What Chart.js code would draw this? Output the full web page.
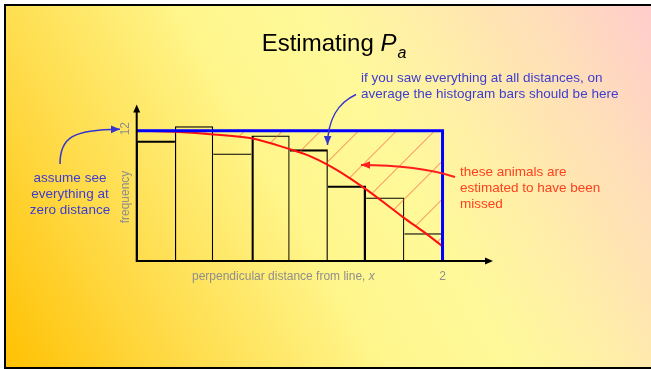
<!DOCTYPE html>
<html>
<head>
<meta charset="utf-8">
<title>Estimating Pa</title>
<script src="https://cdn.jsdelivr.net/npm/chart.js@4.4.0/dist/chart.umd.min.js"></script>
<style>
  html, body { margin: 0; padding: 0; background: #fff; }
  canvas { display: block; }
</style>
</head>
<body>
<canvas id="pa-chart" width="651" height="369"></canvas>
<script>
// histogram of perpendicular distances, 8 bins of width 0.25
var binEdges = [0, 0.25, 0.5, 0.75, 1, 1.25, 1.5, 1.75, 2];
var binCounts = [11.1, 12.4, 9.9, 11.55, 10.3, 6.95, 5.85, 2.55];

// fitted detection function, scaled to the first bin
var curveX = [0, 0.25, 0.5, 0.75, 1, 1.125, 1.25, 1.375, 1.5, 1.625, 1.75, 1.875, 2];
var curveY = [12, 11.9, 11.65, 11.3, 10.3, 9.7, 8.85, 7.8, 6.6, 5.3, 3.95, 2.7, 1.35];

// where the bars would sit if everything were seen
var fullX = [0, 2, 2];
var fullY = [12, 12, 0];

var xTicks = [2];
var yTicks = [12];

var FONT = '"Liberation Sans", Arial, sans-serif';
var BLUE_TEXT = '#3D3DD0';
var RED_TEXT = '#FF3F1F';
var AXIS_GREY = '#8E8E8E';

// which bar tops / bar edges are drawn heavier
var thickTops = [0, 4, 5];
var thickEdges = [3, 6];

var barPoints = binCounts.map(function(v, i) {
	return { x: (binEdges[i] + binEdges[i + 1]) / 2, y: v };
});
var curvePoints = curveX.map(function(x, i) { return { x: x, y: curveY[i] }; });
var fullPoints = fullX.map(function(x, i) { return { x: x, y: fullY[i] }; });

function hatchPattern() {
	var size = 38;
	var c = document.createElement('canvas');
	c.width = size;
	c.height = size;
	var g = c.getContext('2d');
	g.strokeStyle = 'rgba(250, 85, 55, 0.8)';
	g.lineWidth = 1;
	g.beginPath();
	g.moveTo(-2, size + 2); g.lineTo(size + 2, -2);
	g.moveTo(-2, 2); g.lineTo(2, -2);
	g.moveTo(size - 2, size + 2); g.lineTo(size + 2, size - 2);
	g.stroke();
	var p = g.createPattern(c, 'repeat');
	p.setTransform(new DOMMatrix([1, 0, 0, 1, -4.6, 0]));
	return p;
}

function curvedArrow(ctx, p, colour, width) {
	// p = [x0, y0, cx1, cy1, cx2, cy2, tipX, tipY]
	ctx.save();
	ctx.strokeStyle = colour;
	ctx.fillStyle = colour;
	ctx.lineWidth = width;
	ctx.beginPath();
	ctx.moveTo(p[0], p[1]);
	ctx.bezierCurveTo(p[2], p[3], p[4], p[5], p[6], p[7]);
	ctx.stroke();
	var a = Math.atan2(p[7] - p[5], p[6] - p[4]);
	var len = 9, half = 3.8;
	var bx = p[6] - len * Math.cos(a), by = p[7] - len * Math.sin(a);
	ctx.beginPath();
	ctx.moveTo(p[6], p[7]);
	ctx.lineTo(bx - half * Math.sin(a), by + half * Math.cos(a));
	ctx.lineTo(bx + half * Math.sin(a), by - half * Math.cos(a));
	ctx.closePath();
	ctx.fill();
	ctx.restore();
}

function textLines(ctx, lines, x, y, step, colour, align) {
	ctx.fillStyle = colour;
	ctx.textAlign = align;
	ctx.textBaseline = 'middle';
	lines.forEach(function(t, i) { ctx.fillText(t, x, y + i * step); });
}

var slideBackground = {
	id: 'slideBackground',
	beforeDraw: function(chart) {
		var ctx = chart.ctx, w = chart.width, h = chart.height;
		ctx.save();
		ctx.fillStyle = '#fff';
		ctx.fillRect(0, 0, w, h);
		var grad = ctx.createLinearGradient(0, h, w, 0);
		grad.addColorStop(0, '#FFC000');
		grad.addColorStop(0.2, '#FFD944');
		grad.addColorStop(0.45, '#FFF68C');
		grad.addColorStop(0.6, '#FFF99A');
		grad.addColorStop(0.72, '#FFEEA8');
		grad.addColorStop(0.88, '#FFDCBC');
		grad.addColorStop(1, '#FFCCCC');
		ctx.fillStyle = grad;
		ctx.fillRect(5, 5, w - 5, h - 6);
		ctx.strokeStyle = '#000';
		ctx.lineWidth = 2;
		ctx.beginPath();
		ctx.moveTo(w, 5); ctx.lineTo(5, 5); ctx.lineTo(5, h - 1); ctx.lineTo(w, h - 1);
		ctx.stroke();
		ctx.restore();
	}
};

var axesAndNotes = {
	id: 'axesAndNotes',
	afterDatasetsDraw: function(chart) {
		var ctx = chart.ctx, area = chart.chartArea;
		var xs = chart.scales.x, ys = chart.scales.y;
		var x0 = xs.getPixelForValue(0), y0 = ys.getPixelForValue(0);
		ctx.save();
		ctx.strokeStyle = '#000';
		ctx.fillStyle = '#000';
		ctx.lineWidth = 2;
		ctx.beginPath();
		ctx.moveTo(x0, y0 + 1); ctx.lineTo(x0, area.top + 6);
		ctx.moveTo(x0 - 1, y0); ctx.lineTo(area.right - 6, y0);
		ctx.stroke();
		ctx.beginPath();
		ctx.moveTo(x0, area.top); ctx.lineTo(x0 - 3.5, area.top + 8); ctx.lineTo(x0 + 3.5, area.top + 8);
		ctx.closePath();
		ctx.moveTo(area.right, y0); ctx.lineTo(area.right - 8, y0 - 3.5); ctx.lineTo(area.right - 8, y0 + 3.5);
		ctx.closePath();
		ctx.fill();

		// axis labels
		ctx.font = '12px ' + FONT;
		ctx.fillStyle = AXIS_GREY;
		ctx.textBaseline = 'middle';
		ctx.textAlign = 'center';
		xTicks.forEach(function(v) { ctx.fillText(String(v), xs.getPixelForValue(v), y0 + 16); });
		var xt = 'perpendicular distance from line, ';
		ctx.textAlign = 'left';
		ctx.fillText(xt, 192, y0 + 16);
		var xw = ctx.measureText(xt).width;
		ctx.font = 'italic 12px ' + FONT;
		ctx.fillText('x', 192 + xw, y0 + 16);

		ctx.font = '12px ' + FONT;
		ctx.textAlign = 'center';
		yTicks.forEach(function(v) {
			ctx.save();
			ctx.translate(x0 - 11, ys.getPixelForValue(v) - 2);
			ctx.rotate(-Math.PI / 2);
			ctx.fillText(String(v), 0, 0);
			ctx.restore();
		});
		ctx.save();
		ctx.translate(x0 - 11, 197);
		ctx.rotate(-Math.PI / 2);
		ctx.fillText('frequency', 0, 0);
		ctx.restore();
		ctx.restore();
	},
	afterDraw: function(chart) {
		var ctx = chart.ctx;
		ctx.save();

		// title with italic P and subscript a
		var t1 = 'Estimating ';
		ctx.font = '24px ' + FONT;
		var w1 = ctx.measureText(t1).width;
		ctx.font = 'italic 24px ' + FONT;
		var w2 = ctx.measureText('P').width;
		ctx.font = 'italic 16px ' + FONT;
		var w3 = ctx.measureText('a').width;
		var tx = 333.5 - (w1 + w2 + w3) / 2;
		ctx.fillStyle = '#000';
		ctx.textAlign = 'left';
		ctx.textBaseline = 'alphabetic';
		ctx.font = '24px ' + FONT;
		ctx.fillText(t1, tx, 51);
		ctx.font = 'italic 24px ' + FONT;
		ctx.fillText('P', tx + w1, 51);
		ctx.font = 'italic 16px ' + FONT;
		ctx.fillText('a', tx + w1 + w2 + 1, 58);

		ctx.font = '13.5px ' + FONT;
		textLines(ctx, ['if you saw everything at all distances, on',
			'average the histogram bars should be here'], 361, 78, 16, BLUE_TEXT, 'left');
		textLines(ctx, ['assume see', 'everything at', 'zero distance'], 70, 178, 16, BLUE_TEXT, 'center');
		textLines(ctx, ['these animals are', 'estimated to have been', 'missed'], 460, 172, 16, RED_TEXT, 'left');

		curvedArrow(ctx, [60, 164, 60, 138, 72, 129.5, 120, 129.3], '#3535D0', 1.5);
		curvedArrow(ctx, [356, 94.5, 338, 103, 328, 118, 327.5, 145], '#3535D0', 1.5);
		curvedArrow(ctx, [455, 177, 430, 169, 400, 165, 361, 165], '#FF1E1E', 2);
		ctx.restore();
	}
};

window.addEventListener('load', function() {
	var ctx = document.getElementById('pa-chart').getContext('2d');
	new Chart(ctx, {
		type: 'bar',
		data: {
			datasets: [{
				type: 'line',
				label: 'all seen',
				data: fullPoints,
				borderColor: '#0000FF',
				borderWidth: 3,
				borderJoinStyle: 'miter',
				pointRadius: 0,
				tension: 0,
				fill: false,
				order: 1
			}, {
				type: 'line',
				label: 'detection function',
				data: curvePoints,
				borderColor: '#FF1010',
				borderWidth: 2,
				pointRadius: 0,
				cubicInterpolationMode: 'monotone',
				fill: { value: 12 },
				backgroundColor: hatchPattern(),
				order: 2
			}, {
				label: 'observed',
				data: barPoints,
				backgroundColor: 'rgba(0,0,0,0)',
				borderColor: '#000',
				borderSkipped: 'bottom',
				inflateAmount: 0,
				barPercentage: 1,
				categoryPercentage: 1,
				borderWidth: function(c) {
					var i = c.dataIndex;
					var h = binCounts[i];
					var prev = i > 0 ? binCounts[i - 1] : 0;
					var next = i < binCounts.length - 1 ? binCounts[i + 1] : 0;
					var thin = 1.2, thick = 2.3;
					return {
						top: thickTops.indexOf(i) >= 0 ? thick : thin,
						left: prev <= h ? (thickEdges.indexOf(i) >= 0 ? thick : thin) : 0,
						right: next < h ? (thickEdges.indexOf(i + 1) >= 0 ? thick : thin) : 0,
						bottom: 0
					};
				},
				order: 3
			}]
		},
		options: {
			responsive: false,
			animation: false,
			devicePixelRatio: 1,
			layout: { padding: { left: 136.7, right: 158, top: 104.6, bottom: 108 } },
			plugins: {
				legend: { display: false },
				title: { display: false },
				tooltip: { enabled: false }
			},
			scales: {
				x: { type: 'linear', offset: false, min: 0, max: 2.33, display: false, ticks: { stepSize: 1 }, grid: { display: false } },
				y: { type: 'linear', min: 0, max: 14.4, display: false, grid: { display: false } }
			}
		},
		plugins: [slideBackground, axesAndNotes]
	});
});
</script>
</body>
</html>
